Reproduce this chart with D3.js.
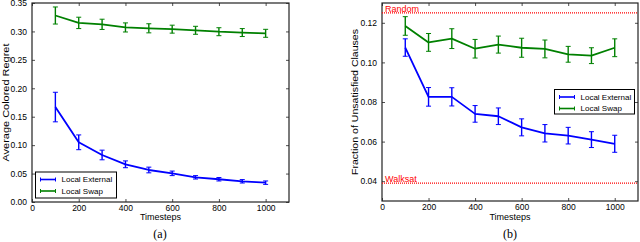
<!DOCTYPE html>
<html><head><meta charset="utf-8">
<script src="https://cdn.jsdelivr.net/npm/d3@7"></script>
<style>body{margin:0;background:#fff}svg{display:block}</style>
</head><body>
<svg id="c" width="640" height="242"></svg>
<script>
// ---- data ----
const timesteps = [100,200,300,400,500,600,700,800,900,1000];
// (a) Average Colored Regret
const regretExternal    = [0.167,0.105,0.0827,0.0663,0.0563,0.0504,0.0434,0.0400,0.0364,0.0340];
const regretExternalErr = [0.026,0.013,0.0085,0.006,0.005,0.004,0.003,0.003,0.003,0.003];
const regretSwap        = [0.328,0.315,0.3125,0.307,0.3055,0.304,0.302,0.2995,0.298,0.2967];
const regretSwapErr     = [0.015,0.010,0.009,0.008,0.008,0.007,0.007,0.007,0.007,0.007];
// (b) Fraction of Unsatisfied Clauses
const fracExternal    = [0.1075,0.0826,0.0826,0.0740,0.0728,0.0672,0.0642,0.0630,0.0610,0.0589];
const fracExternalErr = [0.0044,0.0047,0.0046,0.0042,0.0042,0.0043,0.0044,0.0042,0.0040,0.0043];
const fracSwap        = [0.1184,0.1101,0.1120,0.1069,0.1090,0.1074,0.1068,0.1041,0.1034,0.1074];
const fracSwapErr     = [0.0047,0.0045,0.0050,0.0047,0.0043,0.0048,0.0045,0.0040,0.0040,0.0045];
const randomLevel = 0.125, walksatLevel = 0.039;
const seriesNames = ["Local External","Local Swap"];
const xTicks = [0,200,400,600,800,1000];
const yTicksA = [0,0.05,0.10,0.15,0.20,0.25,0.30,0.35];
const yTicksB = [0.04,0.06,0.08,0.10,0.12];
const colors = {ext:"#0000ff", swap:"#008000", ref:"#ff0000"};
const FONT = "Liberation Sans, Arial, sans-serif";

const svg = d3.select("#c");

function panel(opt){
  const x = d3.scaleLinear().domain([0,1100]).range([opt.x0,opt.x1]);
  const y = d3.scaleLinear().domain(opt.ydom).range([opt.y1,opt.y0]);
  const g = svg.append("g");
  const ax = [
    [d3.axisBottom(x).tickValues(xTicks).tickSize(-3).tickPadding(3).tickFormat(d3.format("d")), `translate(0,${opt.y1})`],
    [d3.axisTop(x).tickValues(xTicks).tickSize(-3).tickFormat(""), `translate(0,${opt.y0})`],
    [d3.axisLeft(y).tickValues(opt.yticks).tickSize(-3).tickPadding(5).tickFormat(d3.format(".2f")), `translate(${opt.x0},0)`],
    [d3.axisRight(y).tickValues(opt.yticks).tickSize(-3).tickFormat(""), `translate(${opt.x1},0)`]
  ];
  ax.forEach(([a,t])=>{
    const s = g.append("g").attr("transform",t).call(a);
    s.select(".domain").remove();
    s.selectAll("line").attr("stroke","#222").attr("stroke-width",0.8);
    s.selectAll("text").attr("font-family",FONT).attr("font-size",8.5).attr("fill","#000");
  });
  g.append("rect").attr("x",opt.x0).attr("y",opt.y0).attr("width",opt.x1-opt.x0).attr("height",opt.y1-opt.y0)
    .attr("fill","none").attr("stroke","#222").attr("stroke-width",1.2);

  (opt.refs||[]).forEach(r=>{
    g.append("line").attr("x1",opt.x0).attr("x2",opt.x1).attr("y1",y(r.v)).attr("y2",y(r.v))
      .attr("stroke",colors.ref).attr("stroke-width",1.2).attr("stroke-dasharray","1,1");
    g.append("text").attr("x",opt.x0+3).attr("y",y(r.v)-1).text(r.label)
      .attr("font-family",FONT).attr("font-size",9).attr("fill",colors.ref);
  });

  const line = d3.line().x((d,i)=>x(timesteps[i])).y(d=>y(d));
  opt.series.forEach(s=>{
    g.append("path").datum(s.v).attr("d",line).attr("fill","none")
      .attr("stroke",s.c).attr("stroke-width",1.8).attr("stroke-linejoin","round");
    const eb = g.append("g").selectAll("g").data(s.v).join("g");
    eb.append("line").attr("x1",(d,i)=>x(timesteps[i])).attr("x2",(d,i)=>x(timesteps[i]))
      .attr("y1",(d,i)=>y(d-s.e[i])).attr("y2",(d,i)=>y(d+s.e[i])).attr("stroke",s.c).attr("stroke-width",1.4);
    [-1,1].forEach(sg=>{
      eb.append("line").attr("x1",(d,i)=>x(timesteps[i])-2.5).attr("x2",(d,i)=>x(timesteps[i])+2.5)
        .attr("y1",(d,i)=>y(d+sg*s.e[i])).attr("y2",(d,i)=>y(d+sg*s.e[i])).attr("stroke",s.c).attr("stroke-width",1);
    });
  });

  const L = opt.legend;
  g.append("rect").attr("x",L.x).attr("y",L.y).attr("width",L.w).attr("height",L.h)
    .attr("fill","#fff").attr("stroke","#000").attr("stroke-width",1);
  opt.series.forEach((s,i)=>{
    const yy = L.y + 7.5 + i*11.5;
    g.append("line").attr("x1",L.x+5).attr("x2",L.x+20).attr("y1",yy).attr("y2",yy).attr("stroke",s.c).attr("stroke-width",1.6);
    [L.x+5,L.x+20].forEach(xx=>g.append("line").attr("x1",xx).attr("x2",xx).attr("y1",yy-2).attr("y2",yy+2).attr("stroke",s.c).attr("stroke-width",1));
    g.append("text").attr("x",L.x+26).attr("y",yy+2.8).text(seriesNames[i])
      .attr("font-family",FONT).attr("font-size",8).attr("fill","#000");
  });

  g.append("text").attr("x",(opt.x0+opt.x1)/2).attr("y",220).attr("text-anchor","middle").text("Timesteps")
    .attr("font-family",FONT).attr("font-size",9);
  g.append("text").attr("transform",`translate(${opt.ylx},${(opt.y0+opt.y1)/2}) rotate(-90)`)
    .attr("text-anchor","middle").text(opt.ylabel).attr("font-family",FONT).attr("font-size",9)
    .attr("textLength",opt.ylen).attr("lengthAdjust","spacingAndGlyphs");
  g.append("text").attr("x",opt.capx).attr("y",238).attr("text-anchor","middle").text(opt.caption)
    .attr("font-family","Liberation Serif, Times New Roman, serif").attr("font-size",12);
}

panel({x0:32,x1:289,y0:3,y1:202,ydom:[0,0.35],yticks:yTicksA,
  series:[{v:regretExternal,e:regretExternalErr,c:colors.ext},{v:regretSwap,e:regretSwapErr,c:colors.swap}],
  legend:{x:35.5,y:172,w:81,h:26},ylabel:"Average Colored Regret",ylx:9,ylen:118,capx:160,caption:"(a)"});

panel({x0:382,x1:638,y0:3,y1:201,ydom:[0.03,0.13],yticks:yTicksB,
  refs:[{v:randomLevel,label:"Random"},{v:walksatLevel,label:"Walksat"}],
  series:[{v:fracExternal,e:fracExternalErr,c:colors.ext},{v:fracSwap,e:fracSwapErr,c:colors.swap}],
  legend:{x:554.5,y:89.5,w:80,h:24.5},ylabel:"Fraction of Unsatisfied Clauses",ylx:358,ylen:146,capx:510,caption:"(b)"});
</script>
</body></html>
